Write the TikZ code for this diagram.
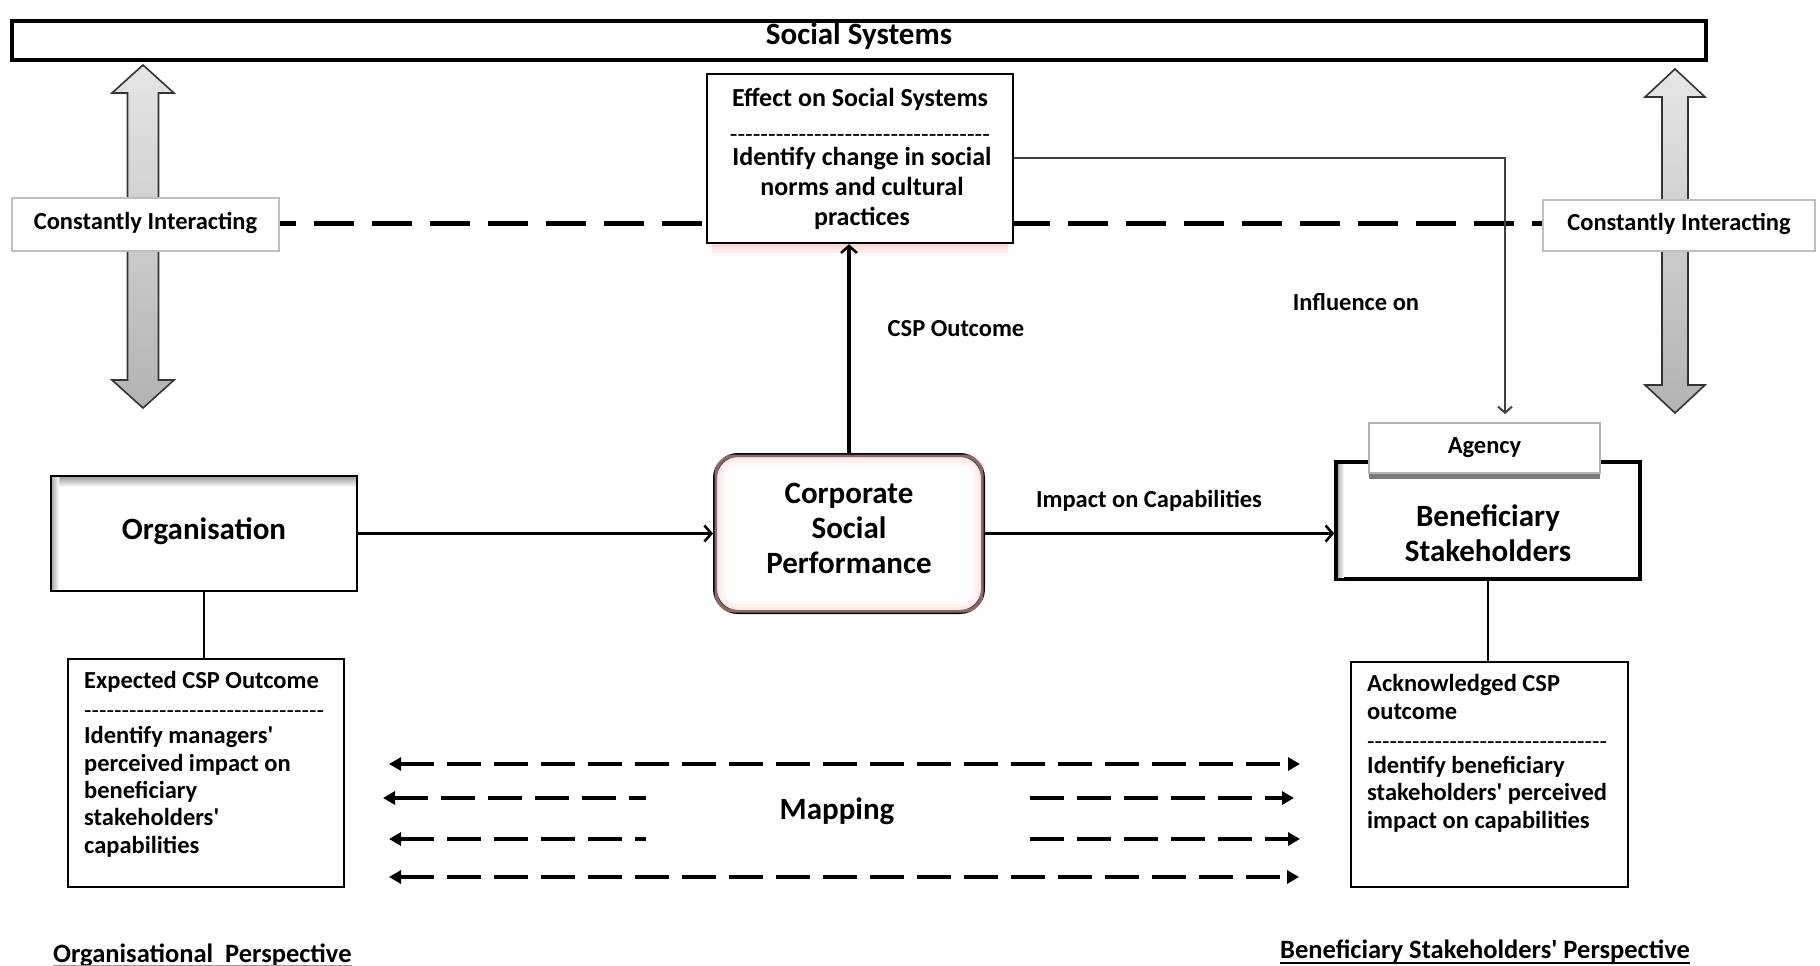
\documentclass[tikz,border=0pt]{standalone}
\usepackage{fontspec}
\newfontfamily\carl{Carlito}
\usetikzlibrary{arrows.meta,shadows,calc}

% a row of hyphens used as a divider inside the outcome boxes
\newcommand\hyphenrow[1]{\foreach \k in {1,...,#1}{-}}

\begin{document}
\begin{tikzpicture}[x=1pt,y=-1pt,
  every node/.style={inner sep=0pt},
  fbig/.style={font=\carl\bfseries\fontsize{31}{35}\selectfont},
  fmid/.style={font=\carl\bfseries\fontsize{26}{30}\selectfont},
  fsmall/.style={font=\carl\bfseries\fontsize{24.5}{27.3}\selectfont},
  fpersp/.style={font=\carl\bfseries\fontsize{26.5}{30}\selectfont},
  divider/.style={font=\carl\fontsize{24.5}{27}\selectfont, text height=10pt, text depth=0pt},
  box/.style={draw=black, fill=white, line width=2.5pt},
  softbox/.style={draw=black!25, fill=white, line width=1.5pt},
  bigarrow/.style={draw=black!80, line width=1.6pt, top color=black!10, bottom color=black!30},
  conn/.style={line width=3pt, -{Straight Barb[length=7pt,width=16pt,line width=2.5pt]}},
  mapline/.style={line width=4pt, dash pattern=on 34pt off 13pt},
  maptip/.style={Triangle[length=12pt,width=13pt]}
]
\useasboundingbox (0,0) rectangle (1820,966);
\fill[white] (0,0) rectangle (1820,966);

% ---------- social systems bar ----------
\node[box, line width=4pt, minimum width=1694pt, minimum height=39pt] (soc) at (859,40.5) {};
\node[fbig] (socT) at (859,36) {Social Systems};

% ---------- two-headed interaction arrows ----------
\path[bigarrow] (143,65) -- (174,93) -- (158.5,93) -- (158.5,380) -- (174,380) -- (143,408)
  -- (112,380) -- (127.5,380) -- (127.5,93) -- (112,93) -- cycle;
\path[bigarrow] (1675,69) -- (1705,97) -- (1688,97) -- (1688,385) -- (1705,385) -- (1675,413)
  -- (1645,385) -- (1662,385) -- (1662,97) -- (1645,97) -- cycle;

% ---------- constantly interacting labels and dashed link ----------
\node[softbox, minimum width=267pt, minimum height=53pt] (ciL) at (145.5,224.5) {};
\node[fsmall, anchor=base] (ciLT) at (ciL.center |- 0,229) {Constantly Interacting};
\node[softbox, minimum width=272pt, minimum height=51pt] (ciR) at (1679,225.5) {};
\node[fsmall, anchor=base] (ciRT) at (ciR.center |- 0,230) {Constantly Interacting};
\draw[line width=5pt, dash pattern=on 40pt off 18pt, dash phase=24pt] (ciL.east |- 0,223) -- (ciR.west |- 0,223);

% ---------- effect on social systems ----------
\foreach \d/\o in {2/0.45,5/0.3,8/0.18,11/0.08}
  \draw[red!35, line width=3pt, opacity=\o] (712,243+\d) -- (1008,243+\d);
\node[box, minimum width=306pt, minimum height=169pt] (eff) at (860,158.5) {};
\node[fmid, anchor=base] (effT) at (860,106) {Effect on Social Systems};
\node[divider, font=\carl\fontsize{25}{30}\selectfont, anchor=base] (effD) at (860,142) {\hyphenrow{34}};
\node[fmid, anchor=base, align=center] (effB) at (862,225) {Identify change in social\\ norms and cultural\\ practices};

% ---------- central nodes ----------
\node[box, minimum width=306pt, minimum height=115pt] (org) at (204,533.5) {};
\shade[top color=black!35, bottom color=white] (52.5,477.5) rectangle (355.5,487);
\shade[left color=black!30, right color=white] (52.5,477.5) rectangle (59,589.5);
\node[fbig] (orgT) at (204,531) {Organisation};

\node[box, line width=4pt, rounded corners=23pt, minimum width=268pt, minimum height=157pt] (csp) at (849,533.5) {};
\foreach \i/\o in {3/0.55,6/0.35,9/0.2,12/0.08}
  \draw[red!25, line width=3pt, opacity=\o, rounded corners=21pt-\i pt]
    ($(csp.north west)+(\i,\i)$) rectangle ($(csp.south east)+(-\i,-\i)$);
\node[fbig, align=center, anchor=base] (cspT) at (849,573.5) {Corporate\\ Social\\ Performance};

\node[box, line width=3.5pt, minimum width=304pt, minimum height=117pt] (ben) at (1488,520.5) {};
\shade[left color=black!30, right color=white] (1338,464) rectangle (1344,577);
\node[fbig, align=center, anchor=base] (benT) at (1488,561.5) {Beneficiary\\ Stakeholders};
\node[softbox, draw=black!30, fsmall, minimum width=231pt, minimum height=50pt,
  drop shadow={shadow xshift=0pt, shadow yshift=-6pt, fill=black!65, opacity=0.8}] (agency) at (1484.5,448) {Agency};

% ---------- outcome boxes ----------
\node[box, line width=2.5pt, minimum width=276pt, minimum height=228pt] (exp) at (206,773) {};
\node[fsmall, anchor=base west] (expT) at (84,688) {Expected CSP Outcome};
\node[divider, anchor=base west] (expD) at (84,718) {\hyphenrow{32}};
\node[fsmall, anchor=base west, align=left] (expB) at (84,853) {Identify managers'\\ perceived impact on\\ beneficiary\\ stakeholders'\\ capabilities};

\node[box, line width=2.5pt, minimum width=277pt, minimum height=225pt] (ack) at (1489.5,774.5) {};
\node[fsmall, anchor=base west, align=left] (ackT) at (1367,719) {Acknowledged CSP\\ outcome};
\node[divider, anchor=base west] (ackD) at (1367,749) {\hyphenrow{32}};
\node[fsmall, anchor=base west, align=left] (ackB) at (1367,828) {Identify beneficiary\\ stakeholders' perceived\\ impact on capabilities};

% ---------- connectors ----------
\draw[conn] (org.east) -- (csp.west);
\draw[conn] (csp.east) -- (csp.east -| ben.west);
\draw[conn, line width=4.5pt] (csp.north) -- (csp.north |- eff.south);
\coordinate (bend) at (1505,158);
\coordinate (inflEnd) at (1505,414);
\draw[black!75, line width=2pt, -{Straight Barb[length=6pt,width=14pt,line width=2pt]}]
  (eff.east |- bend) -- (bend) -- (inflEnd);
\draw[line width=2pt] (org.south) -- (org.south |- exp.north);
\draw[line width=2pt] (ben.south) -- (ben.south |- ack.north);

% ---------- connector labels ----------
\node[fsmall] (lblOut) at (956,329) {CSP Outcome};
\node[fsmall] (lblInf) at (1356,302) {Influence on};
\node[fsmall, anchor=base] (lblImp) at (1149,507) {Impact on Capabilities};

% ---------- mapping arrows ----------
\coordinate (mL1) at (389,764);  \coordinate (mR1) at (1300,764);
\coordinate (mL2) at (383,798);  \coordinate (mM2) at (646,798);
\coordinate (mN2) at (1030,798); \coordinate (mR2) at (1294,798);
\coordinate (mL3) at (389,839);  \coordinate (mM3) at (646,839);
\coordinate (mN3) at (1030,839); \coordinate (mR3) at (1300,839);
\coordinate (mL4) at (389,877);  \coordinate (mR4) at (1299,877);
\draw[mapline, {Triangle[length=12pt,width=13pt]}-{Triangle[length=12pt,width=13pt]}] (mL1) -- (mR1);
\draw[mapline, {Triangle[length=12pt,width=13pt]}-] (mL2) -- (mM2);
\draw[mapline, -{Triangle[length=12pt,width=13pt]}] (mN2) -- (mR2);
\draw[mapline, {Triangle[length=12pt,width=13pt]}-] (mL3) -- (mM3);
\draw[mapline, -{Triangle[length=12pt,width=13pt]}] (mN3) -- (mR3);
\draw[mapline, {Triangle[length=12pt,width=13pt]}-{Triangle[length=12pt,width=13pt]}] (mL4) -- (mR4);
\node[fbig] (mapT) at (837,811) {Mapping};

% ---------- perspectives ----------
\node[fpersp, anchor=base west] (perO) at (53,962) {Organisational\ \ Perspective};
\draw[black!40, line width=1.5pt] ([yshift=-3.5pt]perO.base west) -- ([yshift=-3.5pt]perO.base east);
\node[fpersp, anchor=base west] (perB) at (1280,958) {Beneficiary Stakeholders' Perspective};
\draw[line width=2pt] ([yshift=-4.5pt]perB.base west) -- ([yshift=-4.5pt]perB.base east);
\end{tikzpicture}
\end{document}
